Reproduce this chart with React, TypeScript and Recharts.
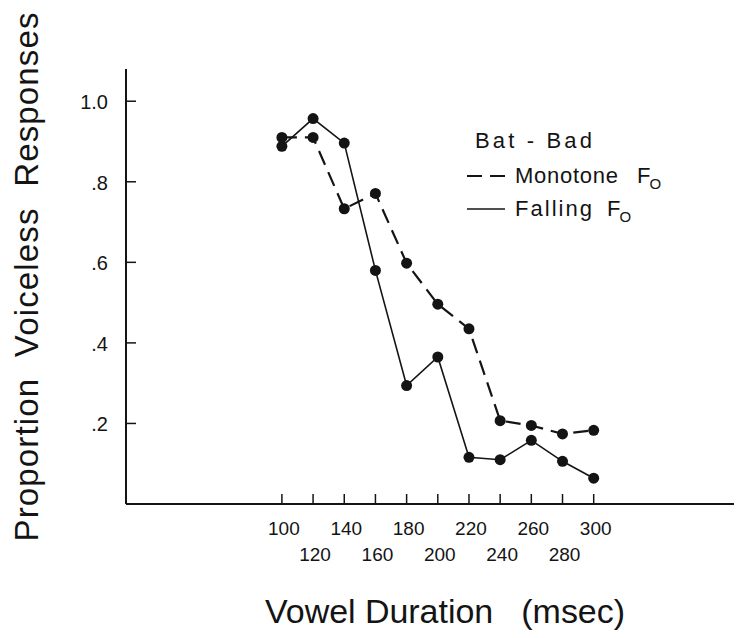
import React from "react";
import { LineChart, Line, XAxis, YAxis, Legend, Label } from "recharts";

const durations = [100, 120, 140, 160, 180, 200, 220, 240, 260, 280, 300];
const monotoneF0 = [0.91, 0.91, 0.733, 0.771, 0.598, 0.496, 0.435, 0.207, 0.195, 0.174, 0.183];
const fallingF0 = [0.888, 0.957, 0.896, 0.58, 0.294, 0.365, 0.116, 0.11, 0.158, 0.106, 0.064];
const yTicks = [0.2, 0.4, 0.6, 0.8, 1.0];
const yTickLabels = [".2", ".4", ".6", ".8", "1.0"];
const seriesNames = ["Monotone", "Falling"];

const data = durations.map((d, i) => ({
  duration: d,
  Monotone: monotoneF0[i],
  Falling: fallingF0[i],
}));

const FONT = '"Liberation Sans", Arial, sans-serif';
const INK = "#141414";

function XTick(props: any) {
  const { x, y, payload, index } = props;
  // labels alternate between two rows
  const dy = index % 2 === 0 ? 31 : 57;
  return (
    <g>
      <line x1={x} y1={y} x2={x} y2={y - 10} stroke={INK} strokeWidth={1.5} />
      <text x={x + 2} y={y + dy} textAnchor="middle" fontSize={19} fontFamily={FONT} fill={INK}>
        {payload.value}
      </text>
    </g>
  );
}

function YTick(props: any) {
  const { x, y, payload, index } = props;
  return (
    <g>
      <line x1={x} y1={y} x2={x + 10} y2={y} stroke={INK} strokeWidth={1.5} />
      <text x={x - 18} y={y + 8} textAnchor="end" fontSize={20} fontFamily={FONT} fill={INK}>
        {yTickLabels[index] ?? payload.value}
      </text>
    </g>
  );
}

function XTitle() {
  return (
    <text x={437} y={615} textAnchor="middle" fontSize={34} fontFamily={FONT} fill={INK}
          textLength={360} lengthAdjust="spacing" style={{ whiteSpace: "pre" }}>
      {"Vowel Duration   (msec)"}
    </text>
  );
}

function YTitle() {
  return (
    <text x={30} y={269} transform="rotate(-90, 30, 269)" textAnchor="middle" fontSize={33}
          fontFamily={FONT} fill={INK} textLength={529} lengthAdjust="spacing" style={{ whiteSpace: "pre" }}>
      {"Proportion  Voiceless  Responses"}
    </text>
  );
}

const legendTextWidth: Record<string, number> = { Monotone: 103, Falling: 77 };
const legendF0Gap: Record<string, number> = { Monotone: 19, Falling: 15 };

function BatBadLegend(props: any) {
  const items = [...(props.payload || [])].sort(
    (a: any, b: any) => seriesNames.indexOf(a.value) - seriesNames.indexOf(b.value)
  );
  return (
    <svg width={230} height={120} style={{ overflow: "visible" }}>
      <text x={8} y={28} fontSize={22} fontFamily={FONT} fill={INK} textLength={117} lengthAdjust="spacing">
        Bat - Bad
      </text>
      {items.map((it: any, i: number) => {
        const ly = 56 + i * 33;
        const w = legendTextWidth[it.value] ?? 90;
        const fx = 48 + w + (legendF0Gap[it.value] ?? 16);
        return (
          <g key={it.value}>
            <line x1={0} y1={ly} x2={38} y2={ly} stroke={INK} strokeWidth={it.payload?.strokeDasharray ? 2.2 : 1.5}
                  strokeDasharray={it.payload?.strokeDasharray ? "15 8" : undefined} />
            <text x={48} y={ly + 7} fontSize={22} fontFamily={FONT} fill={INK} textLength={w} lengthAdjust="spacing">
              {it.value}
            </text>
            <text x={fx} y={ly + 7} fontSize={22} fontFamily={FONT} fill={INK}>
              F<tspan dx={-1} dy={6} fontSize={15}>O</tspan>
            </text>
          </g>
        );
      })}
    </svg>
  );
}

export default function App() {
  return (
    <LineChart width={735} height={622} data={data} margin={{ top: 61, right: 9, bottom: 0, left: 0 }}>
      <XAxis dataKey="duration" type="number" domain={[0, 390]} ticks={durations} interval={0}
             height={126} tickSize={0} tickMargin={0} tickLine={false} tick={<XTick />}
             axisLine={{ stroke: INK, strokeWidth: 2 }} allowDataOverflow>
        <Label content={<XTitle />} />
      </XAxis>
      <XAxis xAxisId="top" orientation="top" type="number" domain={[0, 390]} height={0}
             tick={false} tickLine={false} axisLine={{ stroke: INK, strokeWidth: 2 }} />
      <YAxis type="number" domain={[0, 1.08]} ticks={yTicks} interval={0} width={118}
             tickSize={0} tickMargin={0} tickLine={false} tick={<YTick />}
             axisLine={{ stroke: INK, strokeWidth: 2 }} allowDataOverflow>
        <Label content={<YTitle />} />
      </YAxis>
      <YAxis yAxisId="right" orientation="right" type="number" domain={[0, 1.08]} width={0}
             tick={false} tickLine={false} axisLine={{ stroke: INK, strokeWidth: 2 }} />
      <Legend layout="vertical" align="center" verticalAlign="middle"
              wrapperStyle={{ left: 459, top: 112, width: 230, height: 120 }} content={<BatBadLegend />} />
      <Line dataKey="Monotone" name="Monotone" type="linear" stroke={INK} strokeWidth={2.2} strokeDasharray="15 8"
            dot={{ r: 5.5, fill: INK, stroke: INK, strokeWidth: 0 }} isAnimationActive={false} />
      <Line dataKey="Falling" name="Falling" type="linear" stroke={INK} strokeWidth={1.6}
            dot={{ r: 5.5, fill: INK, stroke: INK, strokeWidth: 0 }} isAnimationActive={false} />
    </LineChart>
  );
}
